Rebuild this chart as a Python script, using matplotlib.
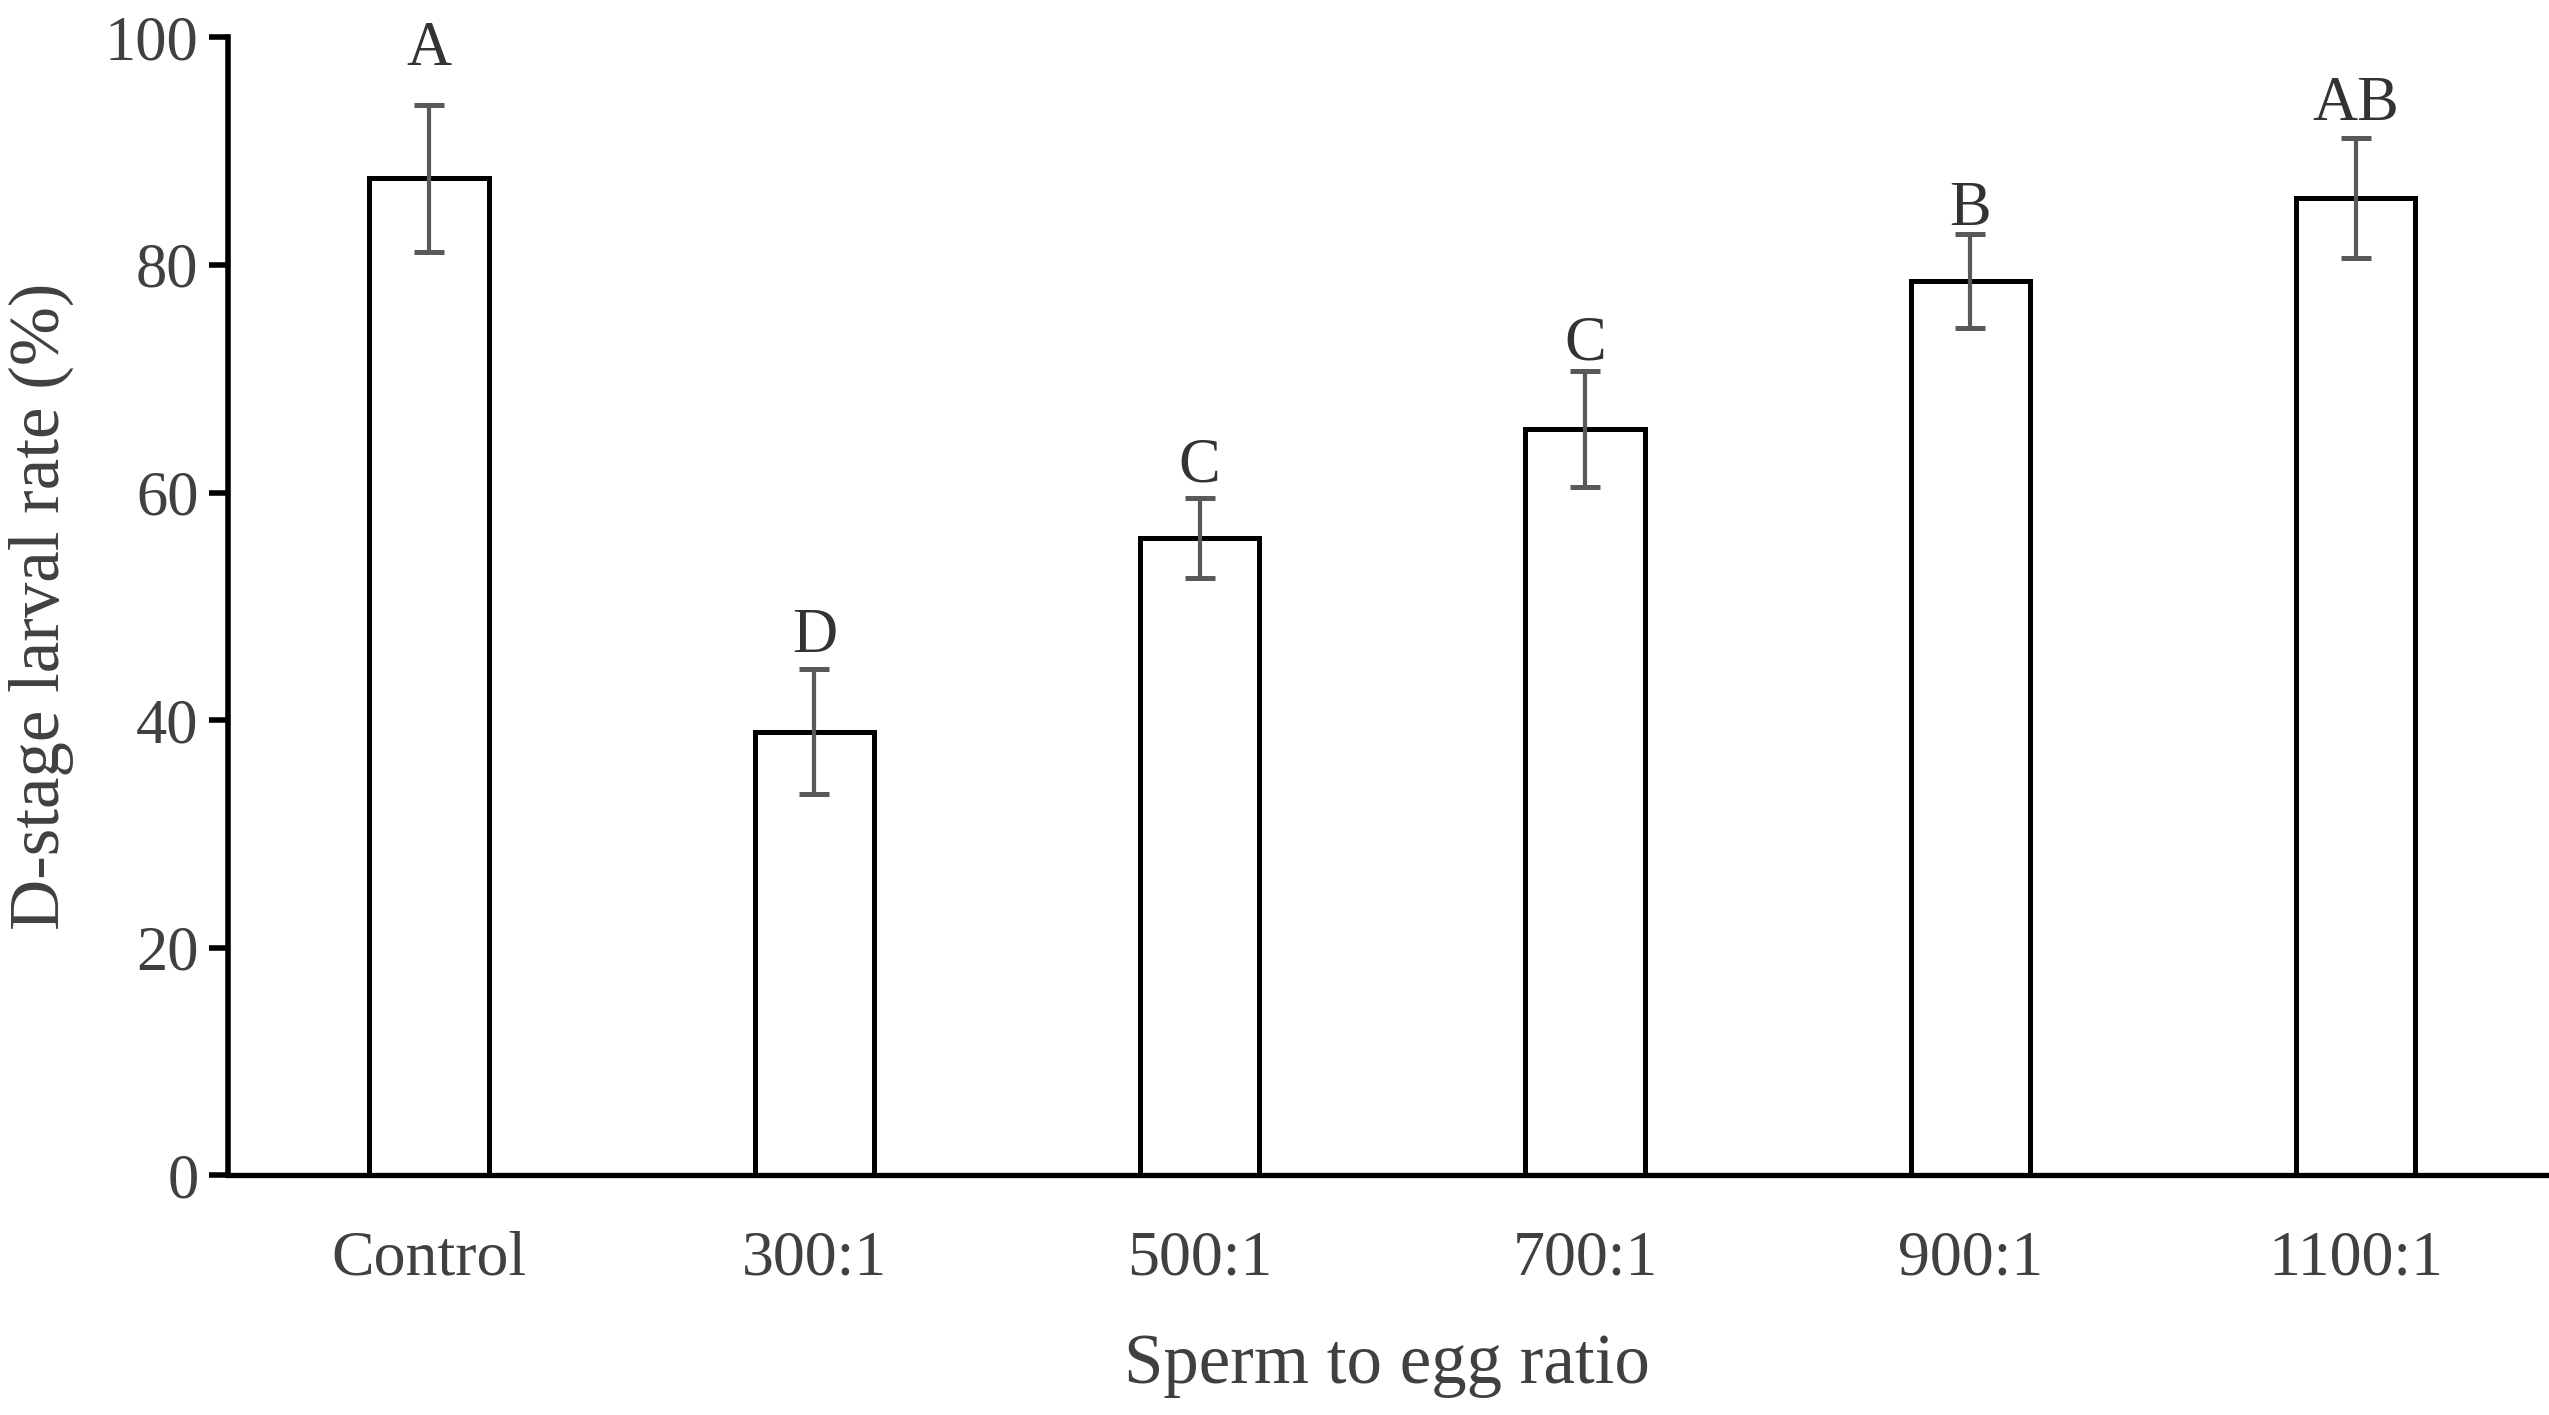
import matplotlib
matplotlib.use("Agg")
import matplotlib.pyplot as plt
import numpy as np

# values
groups = ["Control", "300:1", "500:1", "700:1", "900:1", "1100:1"]
rate = [87.6, 39.0, 56.0, 65.6, 78.6, 85.9]
sd = [6.5, 5.5, 3.5, 5.1, 4.1, 5.3]
letters = ["A", "D", "C", "C", "B", "AB"]
letter_y = [97.6, 46.0, 61.0, 71.7, 83.5, 92.7]

plt.rcParams['font.family'] = ['Liberation Serif', 'DejaVu Serif']
txt = "#404040"

fig = plt.figure(figsize=(25.49, 14.15), dpi=100)
ax = fig.add_axes([0.0893, 0.1693, 0.9095, 0.8043])

x = np.arange(len(groups))
ax.bar(x, rate, width=0.31, color="white", edgecolor="black", linewidth=3.6, zorder=2)
ax.errorbar(x, rate, yerr=sd, fmt="none", ecolor="#595959", elinewidth=3.0,
            capsize=10.5, capthick=3.6, zorder=3)

# significance letters
for xi, lab, yy in zip(x, letters, letter_y):
    ax.text(xi, yy, lab, ha="center", va="baseline", fontsize=45, color="#333333")

ax.set_xlim(-0.523, 5.494)
ax.set_ylim(0, 100)
ax.set_yticks([0, 20, 40, 60, 80, 100])
ax.set_xticks(x)
ax.set_xticklabels(groups)

for s in ["top", "right"]:
    ax.spines[s].set_visible(False)
ax.spines["left"].set_linewidth(4.0)
ax.spines["bottom"].set_linewidth(3.8)

ax.tick_params(axis="y", direction="out", length=14, width=4.0, pad=7,
               labelsize=45, labelcolor=txt)
ax.tick_params(axis="x", length=0, pad=40, labelsize=46, labelcolor=txt)

ax.set_xlabel("Sperm to egg ratio", fontsize=51, color=txt, labelpad=32)
ax.set_ylabel("D-stage larval rate (%)", fontsize=51, color=txt, labelpad=22)

fig.savefig("out.png", dpi=100)
